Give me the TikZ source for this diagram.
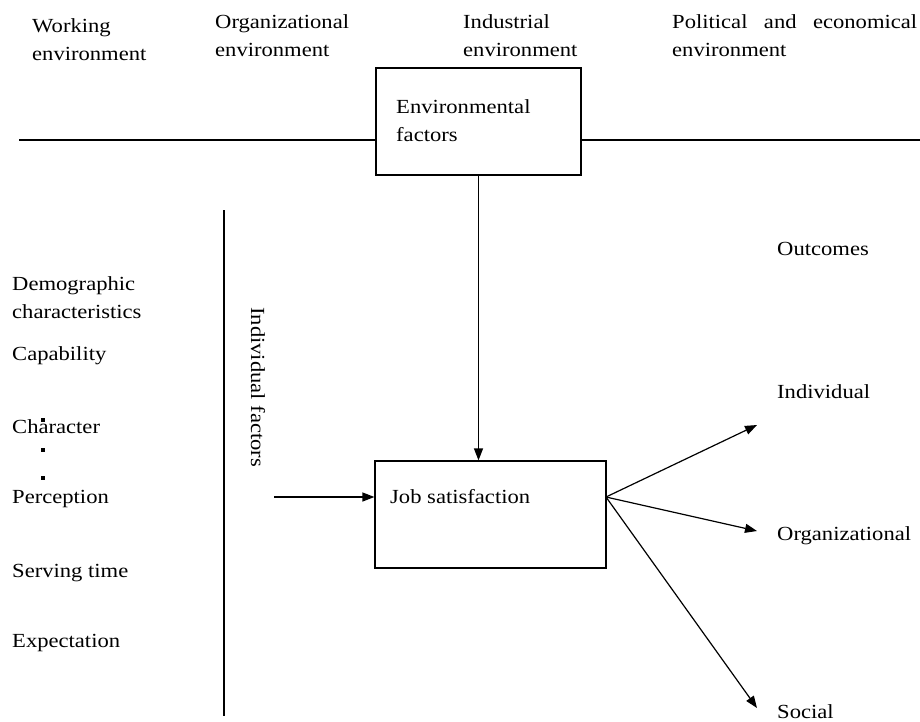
\documentclass[tikz,border=0pt]{standalone}
\usepackage{fontspec}
\setmainfont{Liberation Serif}[FakeStretch=1.13]
\usetikzlibrary{arrows.meta}

\begin{document}
\begin{tikzpicture}[x=1pt,y=-1pt,font=\fontsize{20}{28}\selectfont]
		\tikzstyle{txt} = [inner sep=0pt,anchor=base west,align=left];
		\tikzstyle{boite} = [draw,line width=1.2pt,inner sep=0pt];
		\tikzstyle{fleche} = [-{Triangle[length=12pt,width=9pt]},line width=1.2pt];
		
		\useasboundingbox (0,0) rectangle (920,721);
		
		% environnements (base = derniere ligne)
		\node[txt] (wenv) at (32,60) {Working\\environment};
		\node[txt] (oenv) at (215,56) {Organizational\\environment};
		\node[txt] (ienv) at (463,56) {Industrial\\environment};
		\node[txt] (penv) at (672,56) {\makebox[245pt][s]{Political and economical}\\environment};
		
		\node[boite,minimum width=205pt,minimum height=107pt] (envbox) at (478.5,121.5) {};
		\node[txt] (envtxt) at (396,141) {Environmental\\factors};
		
		\coordinate (hlL) at (19,140);
		\coordinate (hlR) at (920,140);
		\draw[line width=1.2pt] (hlL) -- (hlL -| envbox.west);
		\draw[line width=1.2pt] (hlR -| envbox.east) -- (hlR);
		
		% facteurs individuels
		\foreach \n/\y/\t in {demo/318/{Demographic\\characteristics},capab/360/Capability,charac/433/Character,percep/503/Perception,serv/577/Serving time,expect/647/Expectation}{
			\node[txt] (\n) at (12,\y) {\t};
		}
		\foreach \y in {420,450,478}{
			\fill (41,\y-2) rectangle ++(4,4);
		}
		
		\coordinate (vtop) at (224,210);
		\coordinate (vbot) at (224,716);
		\draw[line width=1.2pt] (vtop) -- (vbot);
		\node[txt,rotate=-90] (indfac) at (251,307) {Individual factors};
		
		% satisfaction
		\node[boite,minimum width=231pt,minimum height=107pt] (jsbox) at (490.5,514.5) {};
		\node[txt] (jstxt) at (390,503) {Job satisfaction};
		
		\coordinate (inarr) at (274,497);
		\draw[fleche] (envbox.south) -- (envbox.south |- jsbox.north);
		\draw[fleche] (inarr) -- (inarr -| jsbox.west);
		
		% resultats
		\node[txt] (outc) at (777,255) {Outcomes};
		\node[txt] (indiv) at (777,398) {Individual};
		\node[txt] (orgn) at (777,540) {Organizational};
		\node[txt] (social) at (777,718) {Social};
		
		\coordinate (jsout) at (606,497);
		\coordinate (tipI) at (757,425);
		\coordinate (tipO) at (757,531);
		\coordinate (tipS) at (757,708);
		\foreach \t in {tipI,tipO,tipS}{
			\draw[fleche] (jsout) -- (\t);
		}
		
	\end{tikzpicture}
\end{document}
